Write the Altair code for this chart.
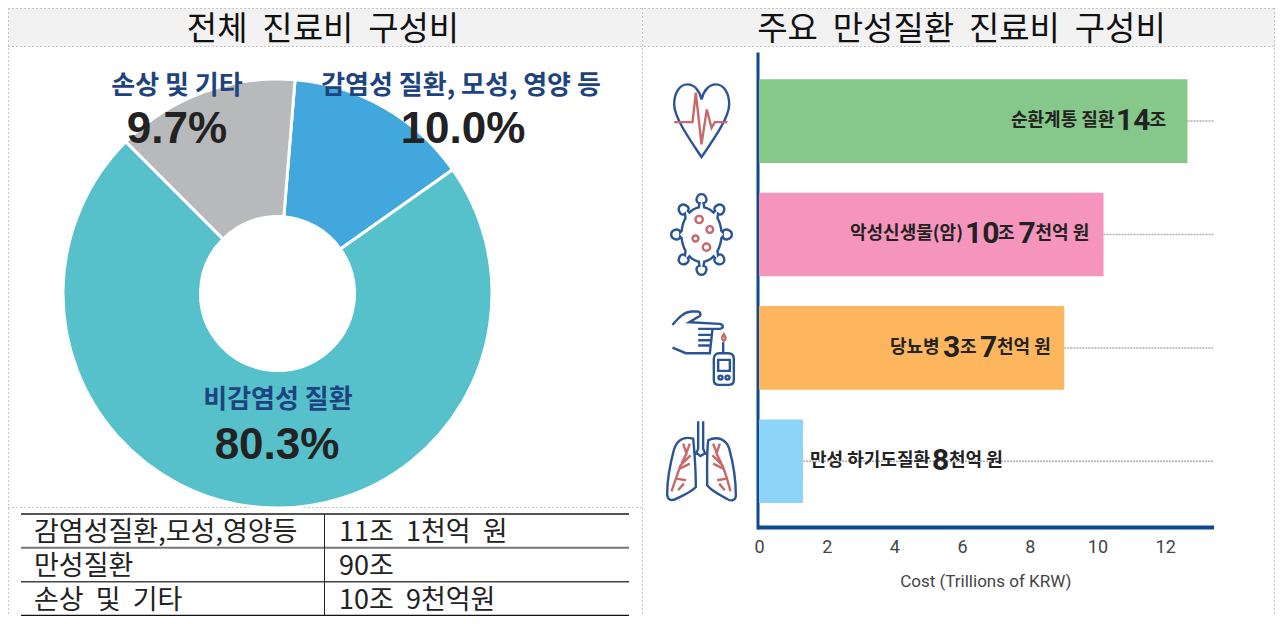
import re
import math
import altair as alt
import pandas as pd

# ---- data ----
panel_titles = ["전체 \u00a0진료비 \u00a0구성비", "주요 \u00a0만성질환 \u00a0진료비 \u00a0구성비"]

pie_names = ["감염성 질환, 모성, 영양 등", "비감염성 질환", "손상 및 기타"]
pie_labels = ["10.0%", "80.3%", "9.7%"]
# size of each slice as drawn in the reference (% of the full turn)
pie_drawn = [13.9, 72.3, 13.8]
pie_colors = ["#41a7dd", "#56c1ca", "#b8b9bb"]

table_left = ["감염성질환,모성,영양등", "만성질환", "손상 \u00a0및 \u00a0기타"]
table_right = ["11조 \u00a01천억 \u00a0원", "90조", "10조 \u00a09천억원"]

bar_cats = ["순환계통 질환", "악성신생물(암)", "당뇨병", "만성 하기도질환"]
bar_values = [12.66, 10.18, 9.02, 1.3]
bar_colors = ["#85c88a", "#f595bc", "#fdb65e", "#8dd4f8"]
x_ticks = [0, 2, 4, 6, 8, 10, 12]
x_end = 13.37
x_title = "Cost (Trillions of KRW)"

# ---- layout (page pixels, the chart starts 8px in) ----
W, H = 1267, 608
KR = "Noto Sans CJK KR"
LAT = "Liberation Sans"
ROB = "Roboto"
NAVY = "#0f4a8c"
ICON = "#2a5496"
RED = "#c8686a"
DARK = "#222222"


def p(v):
    return v - 8


one = pd.DataFrame({"k": [0]})


def text_layer(rows, **mark):
    df = pd.DataFrame(rows, columns=["text", "x", "y"])
    df["x"] = df["x"].map(p)
    df["y"] = df["y"].map(p)
    return alt.Chart(df).mark_text(baseline="middle", **mark).encode(
        x=alt.X("x:Q", scale=None, axis=None),
        y=alt.Y("y:Q", scale=None, axis=None),
        text="text:N",
    )


def hv_rules(rows, **mark):
    df = pd.DataFrame(rows, columns=["x", "x2", "y", "y2"])
    for c in df.columns:
        df[c] = df[c].map(p)
    return alt.Chart(df).mark_rule(**mark).encode(
        x=alt.X("x:Q", scale=None, axis=None),
        x2="x2:Q",
        y=alt.Y("y:Q", scale=None, axis=None),
        y2="y2:Q",
    )


bands = pd.DataFrame({"x": [p(8), p(643)], "x2": [p(642), p(1275)], "y": [0, 0], "y2": [p(46), p(46)]})
band = alt.Chart(bands).mark_rect(color="#f2f2f2").encode(
    x=alt.X("x:Q", scale=None, axis=None), x2="x2:Q",
    y=alt.Y("y:Q", scale=None, axis=None), y2="y2:Q",
)
frame = hv_rules(
    [
        [8, 1275, 8.5, 8.5],
        [8, 1275, 46.5, 46.5],
        [8, 642.5, 507.5, 507.5],
        [8.5, 8.5, 8, 616],
        [642.5, 642.5, 8, 616],
        [1274.5, 1274.5, 8, 616],
    ],
    color="#c6c6c6", strokeDash=[2, 2], strokeWidth=1,
)
titles = text_layer(
    [[panel_titles[0], 323, 30], [panel_titles[1], 961.5, 30]],
    font=KR, fontSize=33, color="#111111", align="center",
)

# ---- donut ----
start = math.radians(4.7)
pie_df = pd.DataFrame({"name": pie_names, "drawn": pie_drawn, "color": pie_colors, "o": [0, 1, 2]})
donut = alt.Chart(pie_df).mark_arc(radius=214.5, radius2=77, stroke="white", strokeWidth=3).encode(
    theta=alt.Theta("drawn:Q", stack=True, scale=alt.Scale(domain=[0, 100], range=[start, start + 2 * math.pi])),
    color=alt.Color("color:N", scale=None),
    order=alt.Order("o:O"),
    x=alt.value(p(277.5)),
    y=alt.value(p(293.5)),
)
pie_name_text = text_layer(
    [[pie_names[2], 177, 86], [pie_names[0], 461, 86], [pie_names[1], 278, 400]],
    font=KR, fontSize=26, fontWeight="bold", color="#1d4480", align="center",
)
pie_pct_text = text_layer(
    [[pie_labels[2], 177, 130], [pie_labels[0], 463, 130], [pie_labels[1], 277, 446]],
    font=LAT, fontSize=44, fontWeight="bold", color=DARK, align="center",
)

# ---- table ----
row_scale = alt.Scale(domain=[0, 3], range=[p(514), p(615.5)])
tbl_df = pd.DataFrame({"row": [0.5, 1.5, 2.5], "left": table_left, "right": table_right})
tbl_left = alt.Chart(tbl_df).mark_text(font=KR, fontSize=27, align="left", baseline="middle", color="#222222", dy=2).encode(
    x=alt.value(p(34)), y=alt.Y("row:Q", scale=row_scale, axis=None), text="left:N")
tbl_right = alt.Chart(tbl_df).mark_text(font=KR, fontSize=27, align="left", baseline="middle", color="#222222", dy=2).encode(
    x=alt.value(p(339)), y=alt.Y("row:Q", scale=row_scale, axis=None), text="right:N")
tbl_lines = pd.DataFrame({"row": [0, 1, 2, 3], "c": ["#555555", "#777777", "#444444", "#111111"], "w": [2, 2, 1.5, 1.5]})
tbl_h = alt.Chart(tbl_lines).mark_rule().encode(
    x=alt.value(p(21)), x2=alt.value(p(629)),
    y=alt.Y("row:Q", scale=row_scale, axis=None),
    color=alt.Color("c:N", scale=None),
    strokeWidth=alt.StrokeWidth("w:Q", scale=None),
)
tbl_v = alt.Chart(one).mark_rule(color="#222222", strokeWidth=1).encode(
    x=alt.value(p(324.5)), y=alt.value(p(514)), y2=alt.value(p(616)))

# ---- bars ----
x_scale = alt.Scale(domain=[0, x_end], range=[p(759), p(1211.5)], nice=False, zero=True)
y_scale = alt.Scale(type="band", domain=bar_cats, range=[p(52), p(529)], paddingInner=0.263, paddingOuter=0.2346, align=0.513)
bar_df = pd.DataFrame({"cat": bar_cats, "value": bar_values, "color": bar_colors, "end": [13.43] * 4})

dotted = alt.Chart(bar_df).mark_rule(color="#b0b0b0", strokeDash=[2, 1], strokeWidth=1.5).encode(
    x=alt.X("value:Q", scale=x_scale, axis=None), x2="end:Q",
    y=alt.Y("cat:N", scale=y_scale, axis=None),
)
bars = alt.Chart(bar_df).mark_bar().encode(
    x=alt.X(
        "value:Q", scale=x_scale,
        axis=alt.Axis(
            orient="bottom", offset=p(527) - H, values=x_ticks, ticks=False, grid=False, title=x_title,
            domainColor=NAVY, domainWidth=4, domainCap="square", labelFlush=False,
            labelFont=ROB, labelFontSize=18, labelColor="#444444", labelPadding=11, labelAngle=0,
            titleFont=ROB, titleFontSize=17, titleFontWeight="normal", titleColor="#444444", titlePadding=17,
        ),
    ),
    y=alt.Y(
        "cat:N", scale=y_scale,
        axis=alt.Axis(
            orient="left", offset=-p(757.5), labels=False, ticks=False, grid=False, title=None,
            domainColor=NAVY, domainWidth=3,
        ),
    ),
    color=alt.Color("color:N", scale=None),
)


def runs_layer(rows, **mark):
    df = pd.DataFrame(rows, columns=["cat", "text", "x"])
    df["x"] = df["x"].map(p)
    return alt.Chart(df).mark_text(align="left", baseline="middle", color=DARK, **mark).encode(
        x=alt.X("x:Q", scale=None, axis=None),
        y=alt.Y("cat:N", scale=y_scale, axis=None),
        text="text:N",
    )


c0, c1, c2, c3 = bar_cats
word_runs = runs_layer(
    [
        [c0, c0, 1011], [c0, "조", 1149.5],
        [c1, c1, 850], [c1, "조", 998], [c1, "천억 원", 1035.5],
        [c2, c2, 890], [c2, "조", 960], [c2, "천억 원", 997],
        [c3, c3, 810], [c3, "천억 원", 949],
    ],
    font=KR, fontSize=18, fontWeight="bold",
)
num_runs = runs_layer(
    [
        [c0, "14", 1116],
        [c1, "10", 965], [c1, "7", 1018.5],
        [c2, "3", 943], [c2, "7", 980],
        [c3, "8", 932],
    ],
    font=ROB, fontSize=30, fontWeight="bold",
)


# ---- icons: outlines given in the pixels of a 3x crop, turned into unit symbols ----
def unit(path, cx=125, cy=140, u=110):
    return re.sub(
        r"(-?\d+\.?\d*),(-?\d+\.?\d*)",
        lambda m: f"{(float(m[1]) - cx) / u:.3f},{(float(m[2]) - cy) / u:.3f}",
        path,
    )


def ring(x, y, r):
    k = 0.552 * r
    return (
        f"M{x + r},{y} C{x + r},{y + k} {x + k},{y + r} {x},{y + r} "
        f"C{x - k},{y + r} {x - r},{y + k} {x - r},{y} "
        f"C{x - r},{y - k} {x - k},{y - r} {x},{y - r} "
        f"C{x + k},{y - r} {x + r},{y - k} {x + r},{y} Z "
    )


def virus_outline():
    cx, cy = 125, 135
    parts = []
    spikes = [-90, -45, 0, 45, 90, 135, 180, 225]
    for i, deg in enumerate(spikes):
        a = math.radians(deg)
        ux, uy = math.cos(a), math.sin(a)
        nx, ny = -uy, ux  # sideways
        kx, ky = cx + 77 * ux, cy + 107 * uy  # knob centre
        b1 = (cx + 60 * math.cos(a - 0.14), cy + 82 * math.sin(a - 0.14))
        b2 = (cx + 60 * math.cos(a + 0.14), cy + 82 * math.sin(a + 0.14))
        n1 = (kx - 13 * ux - 6 * nx, ky - 13 * uy - 6 * ny)
        n2 = (kx - 13 * ux + 6 * nx, ky - 13 * uy + 6 * ny)
        tip = (kx + 14 * ux, ky + 14 * uy)
        c1a = (n1[0] - 16 * nx + 2 * ux, n1[1] - 16 * ny + 2 * uy)
        c1b = (tip[0] - 14 * nx, tip[1] - 14 * ny)
        c2a = (tip[0] + 14 * nx, tip[1] + 14 * ny)
        c2b = (n2[0] + 16 * nx + 2 * ux, n2[1] + 16 * ny + 2 * uy)
        cmd = "M" if i == 0 else "L"
        s = f"{cmd}{b1[0]:.1f},{b1[1]:.1f} L{n1[0]:.1f},{n1[1]:.1f} "
        s += f"C{c1a[0]:.1f},{c1a[1]:.1f} {c1b[0]:.1f},{c1b[1]:.1f} {tip[0]:.1f},{tip[1]:.1f} "
        s += f"C{c2a[0]:.1f},{c2a[1]:.1f} {c2b[0]:.1f},{c2b[1]:.1f} {n2[0]:.1f},{n2[1]:.1f} "
        s += f"L{b2[0]:.1f},{b2[1]:.1f} "
        parts.append(s)
        for j in range(1, 5):
            t = a + 0.14 + j * (math.radians(45) - 0.28) / 5
            parts.append(f"L{cx + 60 * math.cos(t):.1f},{cy + 82 * math.sin(t):.1f} ")
    return "".join(parts) + "Z"


heart_line = "M122,75 C128,48 145,30 165,30 C190,30 205,58 205,90 C205,130 155,200 122,248 C90,200 40,130 40,90 C40,58 55,30 80,30 C100,30 116,48 122,75 Z"
heart_red = "M40,143 L95,143 L105,55 L122,210 L138,105 L152,160 L162,143 L200,143"

virus_line = virus_outline()
virus_red = ring(118, 90, 11) + ring(150, 120, 10) + ring(107, 147, 9) + ring(140, 173, 11)

hand_line = (
    "M38,60 C55,40 70,22 95,20 L115,20 C124,22 124,34 115,36 L88,52 L180,57 C192,60 192,70 180,72 L115,72 "
    "M115,90 L158,90 M115,106 L158,106 M115,122 L152,122 M158,72 L150,145 L78,145 L38,128 "
    "M190,112 L190,145 M178,145 L205,145 C216,145 222,152 222,162 L222,225 C222,235 216,240 205,240 L178,240 "
    "C168,240 162,235 162,225 L162,162 C162,152 168,145 178,145 Z M175,165 L210,165 L210,198 L175,198 Z "
    + ring(182, 218, 6) + ring(203, 218, 6)
)
hand_red = "M192,88 C186,97 184,104 192,108 C200,104 198,97 192,88 Z"

lung_line = (
    "M100,70 C70,62 50,75 42,105 C30,150 22,190 22,235 C22,255 35,258 50,250 C70,240 95,230 108,215 C108,180 105,120 100,70 Z "
    "M145,75 C175,60 200,75 208,100 C222,150 228,190 228,240 C228,258 212,258 200,250 C180,238 155,228 142,210 C142,170 140,120 145,75 Z "
    "M115,18 L115,100 L108,118 M130,18 L130,100 L138,118 M108,112 L122,122 L138,112"
)
lung_red = (
    "M92,120 L62,150 L50,185 L35,228 M70,85 L80,115 L65,145 M90,85 L80,112 M90,145 L60,160 M78,195 L50,190 M72,205 L55,225 "
    "M158,120 L188,150 L200,185 L212,228 M180,85 L170,115 L185,145 M160,85 L170,112 M160,145 L190,160 M172,195 L200,190 M178,205 L195,225"
)

icon_df = pd.DataFrame(
    {
        "cat": [c0, c0, c1, c1, c2, c2, c3, c3],
        "path": [
            unit(heart_line, 122, 140), unit(heart_red, 122, 140),
            unit(virus_line, 125, 135), unit(virus_red, 125, 135),
            unit(hand_line, 125, 129), unit(hand_red, 125, 129),
            unit(lung_line, 125, 138), unit(lung_red, 125, 138),
        ],
        "stroke": [ICON, RED] * 4,
    }
)
icons = alt.Chart(icon_df).mark_point(filled=False, strokeWidth=2.4, opacity=1, size=(2 * 110 / 3) ** 2).encode(
    x=alt.value(p(701.5)),
    y=alt.Y("cat:N", scale=y_scale, axis=None),
    shape=alt.Shape("path:N", scale=None),
    stroke=alt.Stroke("stroke:N", scale=None),
)

chart = (
    alt.layer(
        band, frame, titles,
        donut, pie_name_text, pie_pct_text,
        tbl_h, tbl_v, tbl_left, tbl_right,
        dotted, bars, word_runs, num_runs, icons,
    )
    .resolve_scale(x="independent", y="independent", color="independent")
    .properties(width=W, height=H, padding=0, autosize=alt.AutoSizeParams(type="none"))
    .configure_view(stroke=None)
)

chart.save("out.html", embed_options={"renderer": "svg", "actions": False})
